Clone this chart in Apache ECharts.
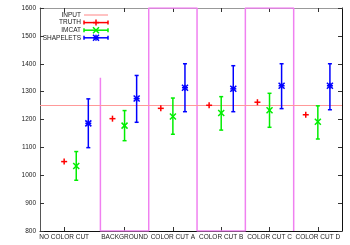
<!DOCTYPE html>
<html><head><meta charset="utf-8">
<script src="https://cdn.jsdelivr.net/npm/echarts@6/dist/echarts.min.js"></script>
<style>html,body{margin:0;padding:0;background:#fff}#c{width:350px;height:245px}</style>
</head><body><div id="c"></div>
<script>
const categories = ['NO COLOR CUT','BACKGROUND','COLOR CUT A','COLOR CUT B','COLOR CUT C','COLOR CUT D'];
const tickPositions = [-0.25, 1, 2, 3, 4, 5];
const groupX = [0, 1, 2, 3, 4, 5];
const inputValue = 1250;
const truth = [1049, 1203, 1240, 1251, 1262, 1217];
const imcat = [1033, 1178, 1211, 1223, 1233, 1192];
const imcatLow = [982, 1124, 1147, 1162, 1172, 1130];
const imcatHigh = [1085, 1232, 1277, 1282, 1294, 1249];
const shapelets = [1186, 1275, 1314, 1310, 1321, 1321];
const shapLow = [1099, 1190, 1228, 1228, 1239, 1235];
const shapHigh = [1274, 1358, 1400, 1393, 1400, 1400];
const sepX = [0.5, 0.5, 1.5, 1.5, 2.5, 2.5, 3.5, 3.5, 4.5, 4.5];
const sepY = [1350, 800, 800, 1600, 1600, 800, 800, 1600, 1600, 800];

const FONT = 'Liberation Sans';
const FS = 6.5;
const RED = '#ff0000', GREEN = '#00ee00', BLUE = '#0000ff';

function markerShapes(kind, cx, cy, r, color, lw) {
  const out = [];
  const ln = (x1,y1,x2,y2) => out.push({type:'line', shape:{x1,y1,x2,y2}, style:{stroke:color, lineWidth:lw}});
  if (kind === 'plus' || kind === 'star') { ln(cx-r,cy,cx+r,cy); ln(cx,cy-r,cx,cy+r); }
  if (kind === 'cross' || kind === 'star') { ln(cx-r,cy-r,cx+r,cy+r); ln(cx-r,cy+r,cx+r,cy-r); }
  return out;
}

function errRender(color, kind, bars) {
  return function(params, api) {
    const x = api.value(0);
    const c = api.coord([x, api.value(1)]);
    const children = [];
    if (bars) {
      const lo = api.coord([x, api.value(2)]);
      const hi = api.coord([x, api.value(3)]);
      const st = {stroke: color, lineWidth: 1.5};
      children.push({type:'line', shape:{x1:lo[0], y1:lo[1], x2:hi[0], y2:hi[1]}, style: st});
      children.push({type:'line', shape:{x1:lo[0]-2, y1:lo[1], x2:lo[0]+2, y2:lo[1]}, style: st});
      children.push({type:'line', shape:{x1:hi[0]-2, y1:hi[1], x2:hi[0]+2, y2:hi[1]}, style: st});
    }
    children.push(...markerShapes(kind, c[0], c[1], 3, color, 1.5));
    return {type:'group', children};
  };
}

const truthData = groupX.map((g,i) => [g - 0.25, truth[i], truth[i], truth[i]]);
const imcatData = groupX.map((g,i) => [g, imcat[i], imcatLow[i], imcatHigh[i]]);
const shapData = groupX.map((g,i) => [g + 0.25, shapelets[i], shapLow[i], shapHigh[i]]);
const sepData = sepX.map((x,i) => [x, sepY[i]]);

const legendItems = [
  {name:'INPUT', color:'#ff9999', kind:null},
  {name:'TRUTH', color:RED, kind:'plus'},
  {name:'IMCAT', color:GREEN, kind:'cross'},
  {name:'SHAPELETS', color:BLUE, kind:'star'}
];
const graphics = [];
legendItems.forEach((it, i) => {
  const y = 15 + i * 7.6;
  graphics.push({type:'text', x: 81, y: y, style:{text: it.name, font: FS + 'px "' + FONT + '"', fill:'#222', align:'right', verticalAlign:'middle'}});
  const st = {stroke: it.color, lineWidth: it.kind ? 1.5 : 1.2};
  graphics.push({type:'line', shape:{x1:84, y1:y, x2:108, y2:y}, style: st});
  if (it.kind) {
    graphics.push({type:'line', shape:{x1:84, y1:y-2, x2:84, y2:y+2}, style: st});
    graphics.push({type:'line', shape:{x1:108, y1:y-2, x2:108, y2:y+2}, style: st});
    markerShapes(it.kind, 96, y, 3, it.color, 1.5).forEach(s => graphics.push(s));
  }
});

const chart = echarts.init(document.getElementById('c'), null, {renderer:'canvas'});
const xBase = { type:'value', min:-0.75, max:5.5, splitLine:{show:false} };
chart.setOption({
  animation:false,
  backgroundColor:'#fff',
  grid:{left:40, right:8, top:8, bottom:14, containLabel:false},
  xAxis:[
    Object.assign({}, xBase, {
      position:'bottom',
      axisLine:{show:true, onZero:false, lineStyle:{color:'#111', width:1}},
      axisTick:{show:true, inside:true, length:4, customValues: tickPositions, lineStyle:{color:'#333'}},
      axisLabel:{show:true, customValues: tickPositions, margin:3, fontSize:FS, fontFamily:FONT, color:'#222',
        formatter: v => { const k = tickPositions.findIndex(t => Math.abs(t - v) < 1e-6); return k >= 0 ? categories[k] : ''; }}
    }),
    Object.assign({}, xBase, {
      position:'top',
      axisLine:{show:true, onZero:false, lineStyle:{color:'#999', width:1}},
      axisTick:{show:true, inside:true, length:4, customValues: tickPositions, lineStyle:{color:'#333'}},
      axisLabel:{show:false}
    })
  ],
  yAxis:[
    {type:'value', position:'left', min:800, max:1600, interval:100, splitLine:{show:false},
      axisLine:{show:true, onZero:false, lineStyle:{color:'#555', width:1}},
      axisTick:{show:true, inside:true, length:4, lineStyle:{color:'#333'}},
      axisLabel:{margin:4, fontSize:FS, fontFamily:FONT, color:'#222', formatter: v => String(v)}},
    {type:'value', position:'right', min:800, max:1600, interval:100, splitLine:{show:false},
      axisLine:{show:true, onZero:false, lineStyle:{color:'#111', width:1}},
      axisTick:{show:true, inside:true, length:4, lineStyle:{color:'#333'}},
      axisLabel:{show:false}}
  ],
  graphic: graphics,
  series:[
    {type:'line', data: sepData, xAxisIndex:0, yAxisIndex:0, symbol:'none', z:3,
      lineStyle:{color:'#f080f0', width:1.5}, silent:true,
      markLine:{symbol:'none', silent:true, label:{show:false}, lineStyle:{color:'#ff9999', width:1, type:'solid'},
        data:[{yAxis: inputValue}]}},
    {type:'custom', name:'TRUTH', data: truthData, renderItem: errRender(RED, 'plus', false), encode:{x:0, y:[1,2,3]}, z:5},
    {type:'custom', name:'IMCAT', data: imcatData, renderItem: errRender(GREEN, 'cross', true), encode:{x:0, y:[1,2,3]}, z:5},
    {type:'custom', name:'SHAPELETS', data: shapData, renderItem: errRender(BLUE, 'star', true), encode:{x:0, y:[1,2,3]}, z:5}
  ]
});
</script></body></html>
